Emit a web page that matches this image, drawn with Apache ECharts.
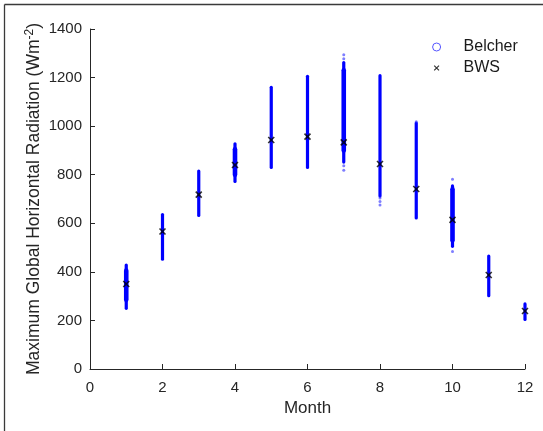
<!DOCTYPE html>
<html>
<head>
<meta charset="utf-8">
<script src="https://cdn.jsdelivr.net/npm/echarts@6/dist/echarts.min.js"></script>
<style>html,body{margin:0;padding:0;background:#fff}#c{width:543px;height:431px}</style>
</head>
<body>
<div id="c"></div>
<script>
// ---- data ----
const months = [1, 2, 3, 4, 5, 6, 7, 8, 9, 10, 11, 12];
// Belcher: extent of the dense column of points for each month
const belcherLow  = [250, 452, 632, 772, 830, 830, 852, 712, 622, 505, 302, 204];
const belcherHigh = [428, 636, 815, 927, 1160, 1205, 1262, 1208, 1013, 754, 465, 268];
// Belcher: densest (widest) part of each column
const belcherCoreLow  = [285, null, null, 800, null, null, 900, null, null, 530, null, null];
const belcherCoreHigh = [405, null, null, 905, null, null, 1230, null, null, 740, null, null];
// Belcher: isolated points outside the dense columns
const belcherSparseMonth = [7, 7, 7, 7, 8, 8, 8, 10, 10, 9];
const belcherSparseValue = [1294, 1278, 837, 818, 704, 690, 675, 781, 484, 1018];
// BWS: one value per month
const bwsValues = [350, 566, 718, 840, 943, 957, 933, 844, 741, 614, 387, 239];
// axis ticks
const xTicks = [0, 2, 4, 6, 8, 10, 12];
const yTicks = [0, 200, 400, 600, 800, 1000, 1200, 1400];

const rangeData = months.map((m, i) => [m, belcherLow[i], belcherHigh[i]]);
const coreData = months.map((m, i) => [m, belcherCoreLow[i], belcherCoreHigh[i]]).filter(d => d[1] != null);
const sparseData = belcherSparseMonth.map((m, i) => [m, belcherSparseValue[i]]);
const bwsData = months.map((m, i) => [m, bwsValues[i]]);

const FONT = '"Liberation Sans", Arial, Helvetica, sans-serif';
const TXT = '#262626';
const CROSS = 'path://M-5,-5M5,5M-3,-3L3,3M3,-3L-3,3';

function rangeRenderer(width) {
  return function (params, api) {
    const x = api.value(0);
    const lo = api.coord([x, api.value(1)]);
    const hi = api.coord([x, api.value(2)]);
    return {
      type: 'line',
      shape: { x1: lo[0], y1: lo[1], x2: hi[0], y2: hi[1] },
      style: { stroke: '#0000ff', lineWidth: width, lineCap: 'round' }
    };
  };
}

const chart = echarts.init(document.getElementById('c'), null, { renderer: 'canvas' });
chart.setOption({
  backgroundColor: '#ffffff',
  animation: false,
  textStyle: { fontFamily: FONT },
  graphic: [
    { type: 'line', silent: true, shape: { x1: 4.5, y1: 4.5, x2: 543, y2: 4.5 },
      style: { stroke: '#3a3a3a', lineWidth: 1.3 } },
    { type: 'line', silent: true, shape: { x1: 4.5, y1: 4.5, x2: 4.5, y2: 431 },
      style: { stroke: '#3a3a3a', lineWidth: 1.3 } }
  ],
  grid: { left: 90, right: 18, top: 29, bottom: 62, containLabel: false },
  legend: {
    orient: 'vertical', left: 432, top: 39, itemWidth: 44, itemHeight: 8, itemGap: 5,
    padding: 0,
    textStyle: { fontSize: 16, color: '#1a1a1a', fontFamily: FONT },
    data: [
      { name: 'Belcher', icon: 'circle', itemStyle: { color: 'transparent', borderColor: '#5555ff', borderWidth: 1 } },
      { name: 'BWS', icon: CROSS, itemStyle: { color: 'transparent', borderColor: '#000000', borderWidth: 1.2 } }
    ]
  },
  xAxis: {
    type: 'value', min: xTicks[0], max: xTicks[xTicks.length - 1], interval: 2,
    name: 'Month', nameLocation: 'middle', nameGap: 31, nameMoveOverlap: false,
    nameTextStyle: { fontSize: 17, color: TXT, fontFamily: FONT },
    axisLine: { show: true, onZero: false, lineStyle: { color: TXT, width: 1 } },
    axisTick: { show: true, inside: true, length: 5, lineStyle: { color: TXT } },
    axisLabel: { fontSize: 15, color: TXT, margin: 11, fontFamily: FONT, formatter: v => String(v) },
    splitLine: { show: false }
  },
  yAxis: {
    type: 'value', min: yTicks[0], max: yTicks[yTicks.length - 1], interval: 200,
    name: 'Maximum Global Horizontal Radiation (Wm{sup|-2})', nameLocation: 'middle', nameGap: 46, nameRotate: 90,
    nameMoveOverlap: false,
    nameTextStyle: { fontSize: 17.5, color: TXT, fontFamily: FONT,
      rich: { sup: { fontSize: 12, color: TXT, fontFamily: FONT, verticalAlign: 'top', padding: [0, 0, 8, 0] } } },
    axisLine: { show: true, onZero: false, lineStyle: { color: TXT, width: 1 } },
    axisTick: { show: true, inside: true, length: 5, lineStyle: { color: TXT } },
    axisLabel: { fontSize: 15, color: TXT, margin: 8, fontFamily: FONT, formatter: v => String(v) },
    splitLine: { show: false }
  },
  series: [
    { name: 'Belcher', type: 'custom', renderItem: rangeRenderer(3.2), data: rangeData, encode: { x: 0, y: [1, 2] }, z: 2 },
    { name: 'Belcher', type: 'custom', renderItem: rangeRenderer(4.6), data: coreData, encode: { x: 0, y: [1, 2] }, z: 2 },
    { name: 'Belcher', type: 'scatter', data: sparseData, symbol: 'circle', symbolSize: 3,
      itemStyle: { color: 'rgba(40,40,255,0.75)' }, z: 2 },
    { name: 'BWS', type: 'scatter', data: bwsData, symbol: 'path://M-3,-3L3,3M3,-3L-3,3', symbolSize: 6,
      itemStyle: { color: 'transparent', borderColor: '#000000', borderWidth: 1.6 }, z: 3 }
  ]
});
</script>
</body>
</html>
